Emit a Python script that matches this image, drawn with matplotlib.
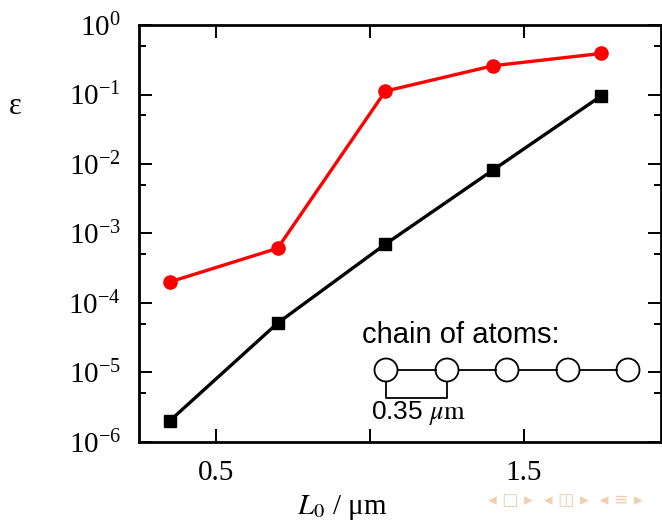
import math
import matplotlib
matplotlib.use('Agg')
import matplotlib.pyplot as plt
import matplotlib.ticker as ticker
from matplotlib.patches import Circle
from matplotlib.lines import Line2D

# data
L0 = [0.35, 0.70, 1.05, 1.40, 1.75]
eps_red = [2.0e-4, 6.1e-4, 0.112, 0.26, 0.39]
eps_black = [2.0e-6, 5.1e-5, 7.0e-4, 8.2e-3, 9.5e-2]
x_ticks = [0.5, 1.0, 1.5]
x_ticklabels = ['0.5', '', '1.5']
y_exponents = [-6, -5, -4, -3, -2, -1, 0]
chain_spacing = '0.35'

plt.rcParams['font.family'] = ['Liberation Serif', 'DejaVu Serif']
plt.rcParams['mathtext.fontset'] = 'stix'

fig = plt.figure(figsize=(6.62, 5.23), dpi=100)
ax = fig.add_axes([0.21, 0.1555, 0.7885, 0.7965])

ax.plot(L0, eps_red, color='#ff0000', lw=2.4, marker='o', ms=9.5, zorder=3)
ax.plot(L0, eps_black, color='black', lw=2.4, marker='s', ms=9, zorder=3)

ax.set_yscale('log')
ax.set_xlim(0.25, 1.945)
ax.set_ylim(1e-6, 1)
ax.set_xticks(x_ticks)
ax.set_xticklabels(x_ticklabels)
ax.set_yticks([10.0 ** e for e in y_exponents])
ax.set_yticklabels([r'$\mathregular{10^{%d}}$' % e for e in y_exponents])
ax.yaxis.set_minor_locator(ticker.FixedLocator([5 * 10.0 ** e for e in y_exponents[:-1]]))
ax.yaxis.set_minor_formatter(ticker.NullFormatter())

ax.tick_params(which='both', direction='in', top=True, right=True, labelsize=21)
ax.tick_params(which='major', length=9.5, width=1.4)
ax.tick_params(which='minor', length=5, width=1.4)
ax.tick_params(axis='x', pad=13)
ax.tick_params(axis='y', pad=13)
for s in ax.spines.values():
    s.set_linewidth(2.0)

fig.text(342 / 662, 1 - 508 / 523, r'$L_{\mathit{0}}$ / μm', fontsize=21,
         ha='center', va='center')
fig.text(15 / 662, 1 - 106 / 523, 'ε', fontsize=22, ha='center', va='center')

# chain of atoms sketch (pixel positions -> inches)
def px(x, y):
    return (x / 100, (523 - y) / 100)

tr = fig.dpi_scale_trans
fig.text(*px(362, 335), 'chain of atoms:', transform=tr, fontsize=21,
         family='Liberation Sans', ha='left', va='center')
cx = [386, 447, 507, 568, 628]
cy = 370
r = 11.5
for i in range(len(cx) - 1):
    fig.add_artist(Line2D([(cx[i] + r) / 100, (cx[i + 1] - r) / 100],
                          [(523 - cy) / 100] * 2, transform=tr, color='black', lw=1.3))
for x in cx:
    fig.add_artist(Circle(px(x, cy), r / 100, transform=tr, facecolor='white',
                          edgecolor='black', lw=1.3))
fig.add_artist(Line2D([386 / 100, 386 / 100, 447 / 100, 447 / 100],
                      [(523 - 382) / 100, (523 - 398) / 100, (523 - 398) / 100, (523 - 382) / 100],
                      transform=tr, color='black', lw=1.3))
fig.text(*px(371, 413), chain_spacing + r' $\mu\mathrm{m}$', transform=tr, fontsize=19,
         family='Liberation Sans', ha='left', va='center')

# faint navigation symbols
fig.text(*px(488, 500), '◂ □ ▸  ◂ ◫ ▸  ◂ ≡ ▸', transform=tr, fontsize=12.5,
         family='DejaVu Sans', color='#efcfae', ha='left', va='center')

fig.savefig('out.png', dpi=100)
